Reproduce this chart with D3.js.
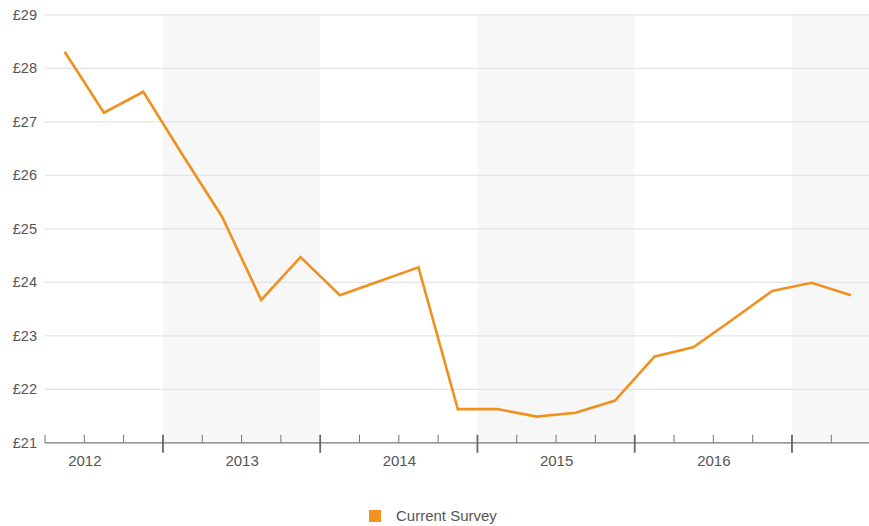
<!DOCTYPE html>
<html>
<head>
<meta charset="utf-8">
<script src="https://cdn.jsdelivr.net/npm/d3@7"></script>
<style>
  html, body { margin: 0; padding: 0; background: #fff; }
  svg { display: block; font-family: "Liberation Sans", Arial, sans-serif; }
</style>
</head>
<body>
<svg id="chart" width="869" height="526"></svg>
<script>
// Quarterly survey average (£), 2012 Q2 – 2017 Q2
const quarters = [
  "2012 Q2", "2012 Q3", "2012 Q4",
  "2013 Q1", "2013 Q2", "2013 Q3", "2013 Q4",
  "2014 Q1", "2014 Q2", "2014 Q3", "2014 Q4",
  "2015 Q1", "2015 Q2", "2015 Q3", "2015 Q4",
  "2016 Q1", "2016 Q2", "2016 Q3", "2016 Q4",
  "2017 Q1", "2017 Q2"
];
const currentSurvey = [
  28.31, 27.17, 27.56,
  26.38, 25.23, 23.67, 24.47,
  23.76, 24.02, 24.28, 21.63,
  21.63, 21.49, 21.56, 21.79,
  22.61, 22.79, 23.31, 23.84,
  23.99, 23.76
];
const yTicks = [21, 22, 23, 24, 25, 26, 27, 28, 29];
const yearLabels = [2012, 2013, 2014, 2015, 2016];
const shadedYears = [2013, 2015, 2017];
const seriesName = "Current Survey";

const W = 869, H = 526;
const svg = d3.select("#chart");

// Quarter string -> fractional year at the middle of the quarter
const qPos = s => {
  const [y, q] = s.split(" Q");
  return +y + (+q - 1) / 4 + 0.125;
};

const x = d3.scaleLinear().domain([2012.25, 2017.5]).range([45, 870.6]);
const y = d3.scaleLinear().domain([21, 29]).range([442.8, 14.8]);

// Alternating year bands
svg.append("g").selectAll("rect")
  .data(shadedYears)
  .join("rect")
  .attr("x", d => x(d))
  .attr("y", y(29))
  .attr("width", d => x(d + 1) - x(d))
  .attr("height", y(21) - y(29))
  .attr("fill", "#f7f7f8");

// Horizontal gridlines
svg.append("g").selectAll("line")
  .data(yTicks.filter(t => t > 21))
  .join("line")
  .attr("x1", 45).attr("x2", W)
  .attr("y1", d => y(d)).attr("y2", d => y(d))
  .attr("stroke", "#e4e4e6").attr("stroke-width", 1.2);

// Y axis labels
const yAxis = d3.axisLeft(y).tickValues(yTicks).tickSize(0).tickPadding(0)
  .tickFormat(d => "£" + d);
svg.append("g")
  .attr("transform", "translate(37,0)")
  .call(yAxis)
  .call(g => g.select(".domain").remove())
  .selectAll("text")
  .attr("font-size", 14.5)
  .attr("font-family", "Liberation Sans, Arial, sans-serif")
  .attr("fill", "#555");

// X axis: quarter ticks, year ticks and centred year labels
const axisG = svg.append("g");
axisG.append("line")
  .attr("x1", 45).attr("x2", W)
  .attr("y1", y(21)).attr("y2", y(21))
  .attr("stroke", "#777").attr("stroke-width", 1.3);

const quarterTicks = d3.range(2012.25, 2017.5, 0.25).filter(t => Math.abs(t - Math.round(t)) > 1e-6);
const majorTicks = d3.range(2013, 2018, 1);

axisG.append("g").selectAll("line")
  .data(quarterTicks)
  .join("line")
  .attr("x1", d => x(d)).attr("x2", d => x(d))
  .attr("y1", y(21) - 8).attr("y2", y(21))
  .attr("stroke", "#777").attr("stroke-width", 1);

axisG.append("g").selectAll("line")
  .data(majorTicks)
  .join("line")
  .attr("x1", d => x(d)).attr("x2", d => x(d))
  .attr("y1", y(21) - 8).attr("y2", y(21) + 10)
  .attr("stroke", "#666").attr("stroke-width", 1.8);

const xAxis = d3.axisBottom(x).tickValues(yearLabels.map(d => d + 0.5))
  .tickSize(0).tickPadding(0).tickFormat(d => String(Math.floor(d)));
svg.append("g")
  .attr("transform", `translate(0,${y(21) + 13})`)
  .call(xAxis)
  .call(g => g.select(".domain").remove())
  .selectAll("text")
  .attr("font-size", 15)
  .attr("font-family", "Liberation Sans, Arial, sans-serif")
  .attr("fill", "#555");

// Series line
const points = quarters.map((q, i) => ({ t: qPos(q), v: currentSurvey[i] }));
svg.append("path")
  .datum(points)
  .attr("fill", "none")
  .attr("stroke", "#f0901e")
  .attr("stroke-width", 2.6)
  .attr("stroke-linejoin", "miter")
  .attr("d", d3.line().x(d => x(d.t)).y(d => y(d.v)));

// Legend
const legend = svg.append("g").attr("transform", "translate(369,510)");
legend.append("rect")
  .attr("width", 12).attr("height", 12)
  .attr("fill", "#f39222");
legend.append("text")
  .attr("x", 27).attr("y", 6)
  .attr("dy", "0.35em")
  .attr("font-size", 15)
  .attr("fill", "#555")
  .text(seriesName);
</script>
</body>
</html>
